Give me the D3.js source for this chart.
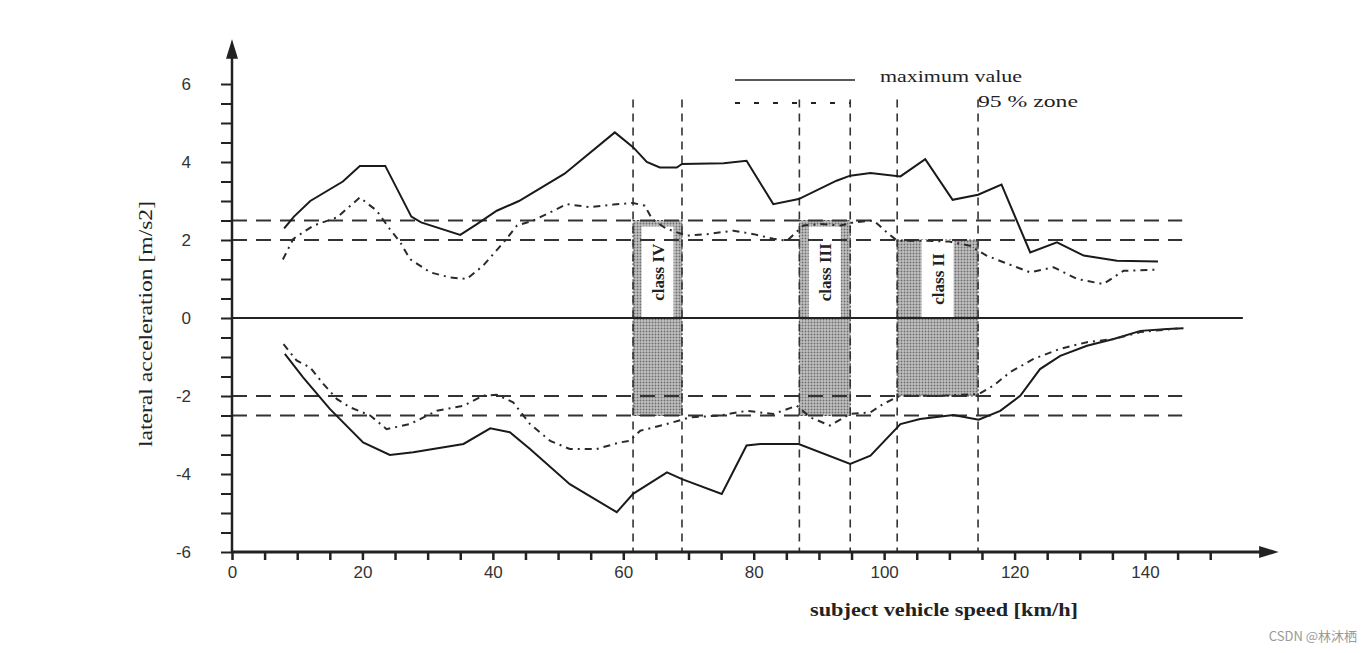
<!DOCTYPE html>
<html>
<head>
<meta charset="utf-8">
<script src="https://cdn.jsdelivr.net/npm/d3@7"></script>
<style>
  html, body { margin: 0; padding: 0; background: #fff; }
  #chart { width: 1372px; height: 653px; }
  .tick text { font-family: "Liberation Sans", Arial, sans-serif; font-size: 17px; fill: #333; }
  .serif { font-family: "Liberation Serif", "DejaVu Serif", serif; fill: #222; }
</style>
</head>
<body>
<div id="chart"></div>
<script>
/* DATA */
const maxUpper = [[8,2.3],[9.5,2.6],[12,3.0],[17,3.5],[19.6,3.9],[23.5,3.9],[27.5,2.6],[29,2.45],[35,2.13],[37.5,2.4],[40.6,2.75],[44,3.0],[51,3.7],[58.7,4.76],[61.5,4.38],[63.6,4.0],[65.6,3.86],[68.2,3.86],[69,3.95],[75.4,3.97],[78.9,4.03],[83,2.92],[86.9,3.05],[92.7,3.52],[94.8,3.65],[97.9,3.72],[102.5,3.63],[106.3,4.07],[110.5,3.03],[114.4,3.16],[118,3.42],[122.4,1.68],[126.5,1.94],[130.6,1.6],[135.7,1.47],[142,1.45]];

const zoneUpper = [[7.8,1.5],[9.4,2.03],[12.5,2.37],[16.1,2.58],[19.6,3.09],[22.2,2.75],[24.2,2.28],[25.8,1.94],[27.3,1.51],[30.4,1.17],[33.4,1.04],[36,1.0],[38.5,1.34],[42.1,2.03],[43.7,2.37],[46.2,2.5],[49.3,2.75],[51.3,2.92],[54.9,2.84],[58.5,2.91],[61.5,2.95],[63.3,2.88],[64.4,2.54],[66.5,2.3],[69.7,2.11],[72.8,2.15],[76.9,2.24],[80,2.15],[83,2.03],[85.1,1.98],[87.6,2.37],[90.2,2.41],[93.3,2.37],[95.3,2.45],[98.4,2.5],[100.4,2.2],[102,1.98],[106,1.98],[110,1.96],[113.2,1.85],[115.7,1.6],[118.3,1.43],[122.4,1.17],[126,1.3],[129.6,1.0],[133.6,0.87],[136.7,1.21],[142,1.24]];

const maxLower = [[8.1,-0.92],[10.9,-1.52],[15,-2.33],[20.1,-3.19],[24.2,-3.51],[27.8,-3.44],[35.5,-3.23],[39.6,-2.83],[42.6,-2.93],[45.7,-3.36],[51.8,-4.26],[59,-4.98],[61.5,-4.51],[66.7,-3.96],[69,-4.13],[75.1,-4.51],[78.9,-3.27],[81,-3.23],[86.9,-3.23],[94.8,-3.74],[97.9,-3.53],[102.5,-2.72],[105.5,-2.59],[110.6,-2.49],[114.5,-2.61],[117.8,-2.38],[120.9,-1.99],[123.9,-1.31],[127,-0.97],[131.1,-0.71],[135.2,-0.54],[139.3,-0.33],[143.4,-0.28],[145.9,-0.26]];

const zoneLower = [[7.9,-0.67],[9.9,-1.09],[12,-1.27],[14,-1.69],[16.1,-2.08],[18.1,-2.29],[21.2,-2.5],[23.7,-2.85],[27.3,-2.72],[31.4,-2.38],[35.5,-2.25],[38.5,-1.99],[40.6,-1.97],[43.1,-2.16],[45.7,-2.72],[48.8,-3.15],[51.8,-3.36],[55.9,-3.36],[59.5,-3.19],[61,-3.15],[62.6,-2.89],[66.2,-2.74],[70.2,-2.55],[74.8,-2.5],[78.9,-2.38],[83,-2.46],[86.6,-2.25],[88.7,-2.55],[91.7,-2.76],[94.8,-2.46],[97.9,-2.42],[99.9,-2.2],[102.5,-1.99],[108,-2.0],[114.5,-1.95],[116.8,-1.73],[119.3,-1.39],[122.9,-1.05],[127,-0.79],[131.1,-0.62],[135.2,-0.54],[139.3,-0.36],[145,-0.27]];

const classNames = ["class IV", "class III", "class II"];
const classFrom = [61.5, 87, 102];
const classTo = [69, 94.8, 114.4];
const classTop = [2.5, 2.5, 2.0];
const classBottom = [-2.5, -2.5, -2.0];

const limitValues = [2.5, 2, -2, -2.5];
const limitEnd = 145.7;
const guideTop = 5.6;

const yLabels = [-6, -4, -2, 0, 2, 4, 6];
const xLabels = [0, 20, 40, 60, 80, 100, 120, 140];
const legendNames = ["maximum value", "95 % zone"];

/* SVG */
const width = 1372, height = 653;
const svg = d3.select("#chart").append("svg")
    .attr("width", width).attr("height", height);

const xScale = d3.scaleLinear().domain([0, 140]).range([232, 1145]);
const yScale = d3.scaleLinear().domain([-6, 6]).range([552, 84]);

/* PATTERN FOR SHADED ZONES */
const defs = svg.append("defs");
const pat = defs.append("pattern").attr("id", "stip")
    .attr("width", 3).attr("height", 3).attr("patternUnits", "userSpaceOnUse");
pat.append("rect").attr("width", 3).attr("height", 3).attr("fill", "#c2c2c2");
pat.append("circle").attr("cx", 1.5).attr("cy", 1.5).attr("r", 0.95).attr("fill", "#6e6e6e");

/* CLASS ZONES */
classNames.forEach(function(name, i) {
    const x0 = xScale(classFrom[i]), x1 = xScale(classTo[i]);
    const yt = yScale(classTop[i]), yb = yScale(classBottom[i]), y0 = yScale(0);
    svg.append("rect").attr("x", x0).attr("y", yt).attr("width", x1 - x0).attr("height", y0 - yt)
        .attr("fill", "url(#stip)").attr("stroke", "#444").attr("stroke-width", 1.2).attr("stroke-dasharray", "2,2");
    const bw = 32;
    const cx = (x0 + x1) / 2;
    svg.append("rect").attr("x", cx - bw / 2).attr("y", yt + (i < 2 ? 6 : 0)).attr("width", bw)
        .attr("height", y0 - yt - (i < 2 ? 6 : 0)).attr("fill", "#fff");
    svg.append("rect").attr("x", x0).attr("y", y0).attr("width", x1 - x0).attr("height", yb - y0)
        .attr("fill", "url(#stip)").attr("stroke", "#444").attr("stroke-width", 1.2).attr("stroke-dasharray", "2,2");
    svg.append("text").attr("class", "serif")
        .attr("transform", `translate(${cx + 6},${(yt + y0) / 2 + (i < 2 ? 3 : 0)}) rotate(-90)`)
        .attr("text-anchor", "middle")
        .style("font-size", "17px").style("font-weight", "bold")
        .text(name);
});

/* GUIDE LINES */
const guides = classFrom.concat(classTo);
svg.selectAll(".vguide").data(guides).enter().append("line")
    .attr("x1", d => xScale(d)).attr("x2", d => xScale(d))
    .attr("y1", yScale(guideTop)).attr("y2", yScale(-6))
    .attr("stroke", "#333").attr("stroke-width", 1.6).attr("stroke-dasharray", "8,6");

svg.selectAll(".hguide").data(limitValues).enter().append("line")
    .attr("x1", xScale(0)).attr("x2", xScale(limitEnd))
    .attr("y1", d => yScale(d)).attr("y2", d => yScale(d))
    .attr("stroke", "#333").attr("stroke-width", 1.8).attr("stroke-dasharray", "15,9");

/* ZERO LINE */
svg.append("line").attr("x1", xScale(0)).attr("x2", xScale(155))
    .attr("y1", yScale(0)).attr("y2", yScale(0))
    .attr("stroke", "#222").attr("stroke-width", 1.8);

/* CURVES */
const line = d3.line().x(d => xScale(d[0])).y(d => yScale(d[1]));
[maxUpper, maxLower].forEach(function(s) {
    svg.append("path").attr("d", line(s)).attr("fill", "none")
        .attr("stroke", "#1a1a1a").attr("stroke-width", 2);
});
[zoneUpper, zoneLower].forEach(function(s) {
    svg.append("path").attr("d", line(s)).attr("fill", "none")
        .attr("stroke", "#2a2a2a").attr("stroke-width", 2).attr("stroke-dasharray", "7,5,2,5");
});

/* AXES */
const yAxis = svg.append("g").attr("transform", `translate(${xScale(0)},0)`)
    .call(d3.axisLeft(yScale).tickValues(d3.range(-6, 6.01, 0.5)).tickSize(11).tickPadding(30)
        .tickFormat(d => yLabels.includes(d) ? d : ""));
yAxis.select(".domain").remove();
yAxis.selectAll(".tick line").attr("stroke", "#222").attr("stroke-width", 2);

const xAxis = svg.append("g").attr("transform", `translate(0,${yScale(-6)})`)
    .call(d3.axisBottom(xScale).tickValues(d3.range(0, 151, 5)).tickSize(8).tickPadding(6)
        .tickFormat(d => xLabels.includes(d) ? d : ""));
xAxis.select(".domain").remove();
xAxis.selectAll(".tick line").attr("stroke", "#222").attr("stroke-width", 2.5);

svg.append("line").attr("x1", xScale(0)).attr("x2", xScale(0))
    .attr("y1", yScale(-6)).attr("y2", yScale(6.9))
    .attr("stroke", "#222").attr("stroke-width", 2.5);
svg.append("path")
    .attr("d", `M${xScale(0)},${yScale(7.15)} L${xScale(0) - 6},${yScale(6.65)} L${xScale(0) + 6},${yScale(6.65)} Z`)
    .attr("fill", "#222");
svg.append("line").attr("x1", xScale(0) - 1).attr("x2", xScale(158.5))
    .attr("y1", yScale(-6)).attr("y2", yScale(-6))
    .attr("stroke", "#222").attr("stroke-width", 3);
svg.append("path")
    .attr("d", `M${xScale(160.5)},${yScale(-6)} L${xScale(157.5)},${yScale(-6) - 6} L${xScale(157.5)},${yScale(-6) + 6} Z`)
    .attr("fill", "#222");

/* AXIS LABELS */
svg.append("text").attr("class", "serif")
    .attr("transform", `translate(${152},${yScale(0) + 6}) rotate(-90)`)
    .attr("text-anchor", "middle")
    .style("font-size", "18px")
    .attr("textLength", 246).attr("lengthAdjust", "spacingAndGlyphs")
    .text("lateral acceleration [m/s2]");

svg.append("text").attr("class", "serif")
    .attr("x", 944).attr("y", 616)
    .attr("text-anchor", "middle")
    .style("font-size", "19px").style("font-weight", "bold")
    .attr("textLength", 268).attr("lengthAdjust", "spacingAndGlyphs")
    .text("subject vehicle speed [km/h]");

/* LEGEND */
svg.append("line").attr("x1", 735).attr("x2", 855).attr("y1", 80).attr("y2", 80)
    .attr("stroke", "#222").attr("stroke-width", 1.6);
svg.append("line").attr("x1", 735).attr("x2", 850).attr("y1", 103).attr("y2", 103)
    .attr("stroke", "#222").attr("stroke-width", 2).attr("stroke-dasharray", "5,14");
svg.append("text").attr("class", "serif").attr("x", 880).attr("y", 82)
    .style("font-size", "17px").attr("textLength", 142).attr("lengthAdjust", "spacingAndGlyphs")
    .text(legendNames[0]);
svg.append("text").attr("class", "serif").attr("x", 978).attr("y", 107)
    .style("font-size", "17px").attr("textLength", 100).attr("lengthAdjust", "spacingAndGlyphs")
    .text(legendNames[1]);

/* WATERMARK */
svg.append("text").attr("x", 1357).attr("y", 641).attr("text-anchor", "end")
    .style("font-family", "'Noto Sans CJK SC', 'Noto Sans', sans-serif")
    .style("font-size", "13px").attr("fill", "#999")
    .text("CSDN @林沐栖");
</script>
</body>
</html>
